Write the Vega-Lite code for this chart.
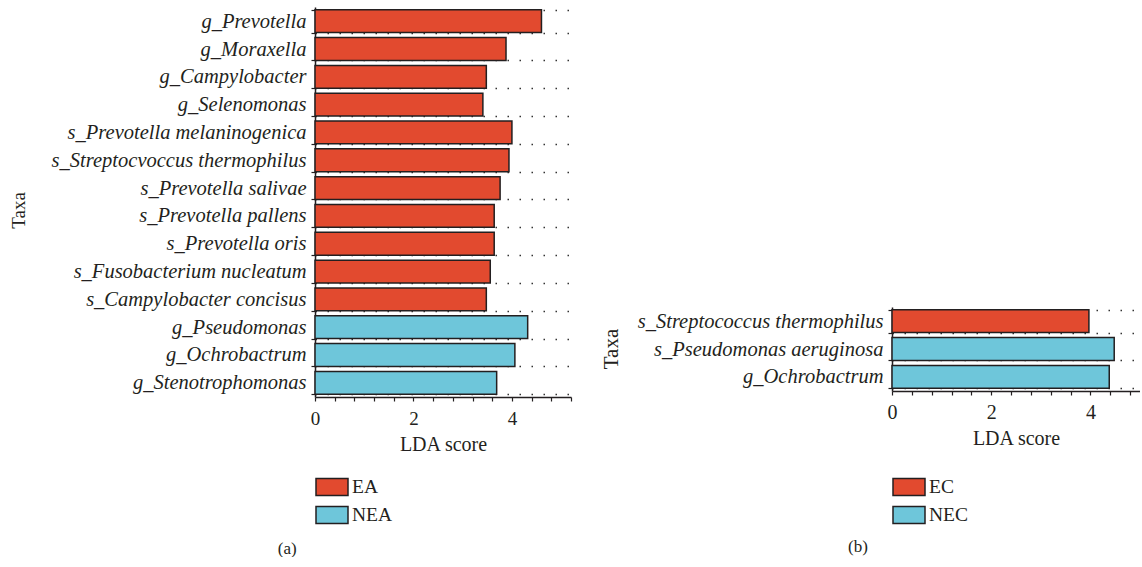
{
  "$schema": "https://vega.github.io/schema/vega-lite/v6.json",
  "background": "white",
  "padding": {"left": 9, "top": -3, "right": 0, "bottom": 0},
  "config": {
    "view": {"stroke": null},
    "font": "Liberation Serif",
    "axis": {
      "labelFont": "Liberation Serif",
      "titleFont": "Liberation Serif",
      "labelColor": "#231f20",
      "titleColor": "#231f20",
      "titleFontWeight": "normal",
      "domainColor": "#231f20",
      "domainWidth": 1.5,
      "tickColor": "#231f20",
      "tickWidth": 1.2
    }
  },
  "spacing": 28,
  "resolve": {"scale": {"color": "independent", "x": "independent", "y": "independent"}, "legend": {"color": "independent"}},
  "hconcat": [
    {
      "width": 256,
      "height": 390,
      "data": {"values": [
        {"taxon": "g_Prevotella", "score": 4.6, "group": "EA"},
        {"taxon": "g_Moraxella", "score": 3.88, "group": "EA"},
        {"taxon": "g_Campylobacter", "score": 3.48, "group": "EA"},
        {"taxon": "g_Selenomonas", "score": 3.41, "group": "EA"},
        {"taxon": "s_Prevotella melaninogenica", "score": 4.0, "group": "EA"},
        {"taxon": "s_Streptocvoccus thermophilus", "score": 3.94, "group": "EA"},
        {"taxon": "s_Prevotella salivae", "score": 3.76, "group": "EA"},
        {"taxon": "s_Prevotella pallens", "score": 3.64, "group": "EA"},
        {"taxon": "s_Prevotella oris", "score": 3.64, "group": "EA"},
        {"taxon": "s_Fusobacterium nucleatum", "score": 3.56, "group": "EA"},
        {"taxon": "s_Campylobacter concisus", "score": 3.48, "group": "EA"},
        {"taxon": "g_Pseudomonas", "score": 4.32, "group": "NEA"},
        {"taxon": "g_Ochrobactrum", "score": 4.06, "group": "NEA"},
        {"taxon": "g_Stenotrophomonas", "score": 3.69, "group": "NEA"}
      ]},
      "mark": {"type": "bar", "stroke": "#231f20", "strokeWidth": 1.5},
      "encoding": {
        "y": {
          "field": "taxon", "type": "nominal", "sort": null,
          "scale": {"paddingInner": 0.18, "paddingOuter": 0.1},
          "axis": {
            "title": "Taxa", "titleFontSize": 19, "titleX": -297, "titleY": 203, "titleBaseline": "middle", "titleAngle": 270,
            "labelFontSize": 20.5, "labelFontStyle": "italic", "labelLimit": 0, "labelPadding": 5,
            "tickBand": "extent", "tickSize": 4,
            "grid": true, "gridDash": [1.5, 10.5], "gridColor": "#333333", "gridWidth": 1.3
          }
        },
        "x": {
          "field": "score", "type": "quantitative",
          "scale": {"domain": [0, 5.2], "nice": false},
          "axis": {
            "title": "LDA score", "titleFontSize": 20, "titlePadding": 6,
            "labelFontSize": 19, "labelPadding": 8, "labelFlush": false,
            "values": [0, 0.4, 0.8, 1.2, 1.6, 2, 2.4, 2.8, 3.2, 3.6, 4, 4.4, 4.8, 5.2],
            "labelExpr": "(datum.value == 0 || datum.value == 2 || datum.value == 4) ? format(datum.value, 'd') : ''",
            "tickSize": 4, "grid": false
          }
        },
        "color": {
          "field": "group", "type": "nominal",
          "scale": {"domain": ["EA", "NEA"], "range": ["#E24A2F", "#6EC6DA"]},
          "legend": {
            "title": null, "orient": "none", "legendX": 6, "legendY": 469,
            "symbolType": "M-1.6,-0.85H1.6V0.85H-1.6Z", "symbolSize": 400,
            "symbolStrokeColor": "#231f20", "symbolStrokeWidth": 1.5, "symbolOpacity": 1,
            "labelFont": "Liberation Serif", "labelFontSize": 19.5, "labelColor": "#231f20",
            "labelOffset": 9, "rowPadding": 4
          }
        }
      },
      "title": {"text": "(a)", "orient": "bottom", "frame": "bounds", "anchor": "middle", "offset": 14, "dx": -3, "fontSize": 17, "fontWeight": "normal", "font": "Liberation Serif", "color": "#231f20"}
    },
    {
      "spacing": 0,
      "resolve": {"scale": {"color": "independent", "x": "independent", "y": "independent"}, "legend": {"color": "independent"}},
      "vconcat": [
        {
          "width": 10, "height": 290,
          "data": {"values": []},
          "mark": "point",
          "encoding": {}
        },
        {
          "width": 248,
          "height": 84,
          "data": {"values": [
            {"taxon": "s_Streptococcus thermophilus", "score": 3.97, "group": "EC"},
            {"taxon": "s_Pseudomonas aeruginosa", "score": 4.48, "group": "NEC"},
            {"taxon": "g_Ochrobactrum", "score": 4.38, "group": "NEC"}
          ]},
          "mark": {"type": "bar", "stroke": "#231f20", "strokeWidth": 1.5},
          "encoding": {
            "y": {
              "field": "taxon", "type": "nominal", "sort": null,
              "scale": {"paddingInner": 0.18, "paddingOuter": 0.1},
              "axis": {
                "title": "Taxa", "titleFontSize": 21, "titleX": -281, "titleY": 41.5, "titleBaseline": "middle", "titleAngle": 270,
                "labelFontSize": 20.5, "labelFontStyle": "italic", "labelLimit": 0, "labelPadding": 5,
                "tickBand": "extent", "tickSize": 4,
                "grid": true, "gridDash": [1.5, 10.5], "gridColor": "#333333", "gridWidth": 1.3
              }
            },
            "x": {
              "field": "score", "type": "quantitative",
              "scale": {"domain": [0, 5], "nice": false},
              "axis": {
                "title": "LDA score", "titleFontSize": 20, "titlePadding": 6,
                "labelFontSize": 20, "labelPadding": 7, "labelFlush": false,
                "values": [0, 0.4, 0.8, 1.2, 1.6, 2, 2.4, 2.8, 3.2, 3.6, 4, 4.4, 4.8],
                "labelExpr": "(datum.value == 0 || datum.value == 2 || datum.value == 4) ? format(datum.value, 'd') : ''",
                "tickSize": 4, "grid": false
              }
            },
            "color": {
              "field": "group", "type": "nominal",
              "scale": {"domain": ["EC", "NEC"], "range": ["#E24A2F", "#6EC6DA"]},
              "legend": {
                "title": null, "orient": "none", "legendX": 6, "legendY": 169,
                "symbolType": "M-1.6,-0.85H1.6V0.85H-1.6Z", "symbolSize": 400,
                "symbolStrokeColor": "#231f20", "symbolStrokeWidth": 1.5, "symbolOpacity": 1,
                "labelFont": "Liberation Serif", "labelFontSize": 19.5, "labelColor": "#231f20",
                "labelOffset": 9, "rowPadding": 4
              }
            }
          },
          "title": {"text": "(b)", "orient": "bottom", "frame": "bounds", "anchor": "middle", "offset": 12, "dx": -12, "fontSize": 17, "fontWeight": "normal", "font": "Liberation Serif", "color": "#231f20"}
        }
      ]
    }
  ]
}
